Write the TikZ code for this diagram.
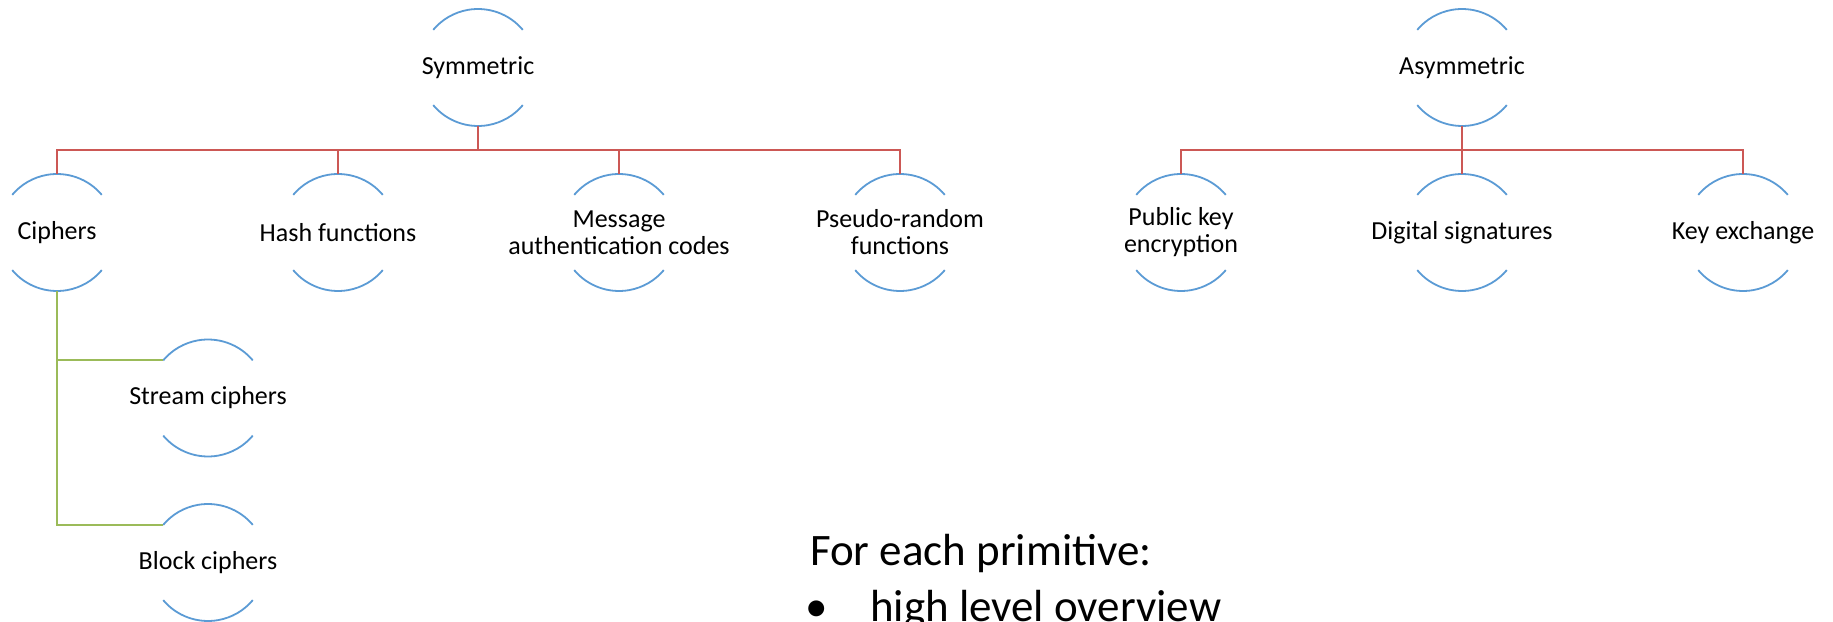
\documentclass[tikz,border=0pt]{standalone}
\usepackage{fontspec}
\setmainfont{Carlito}
\definecolor{arcblue}{RGB}{91,155,213}
\definecolor{busred}{RGB}{204,88,85}
\definecolor{subgreen}{RGB}{155,187,89}
\tikzset{
  ring/.style={circle, minimum size=117pt, inner sep=0pt, outer sep=0pt},
  lbl/.style={align=center, font=\fontsize{26}{27}\selectfont, inner sep=0pt},
  arcline/.style={draw=arcblue, line width=1.8pt},
  redline/.style={draw=busred, line width=1.8pt},
  greenline/.style={draw=subgreen, line width=1.8pt},
  note/.style={font=\fontsize{45}{56}\selectfont, inner sep=0pt, anchor=base west}
}
\newcommand\primnode[3]{%
  \node[ring] (#1) at (#2) {};
  \node[lbl] (#1-t) at (#1.center) {#3};
  \draw[arcline] (#1.40) arc[start angle=40,end angle=140,radius=58.5pt];
  \draw[arcline] (#1.220) arc[start angle=220,end angle=320,radius=58.5pt];
}
\begin{document}
\begin{tikzpicture}[x=1pt,y=1pt]
\fill[white] (0,0) rectangle (1833,621);
\useasboundingbox (0,0) rectangle (1833,621);

\primnode{sym}{478,553.5}{Symmetric}
\primnode{asym}{1462,553.5}{Asymmetric}

\primnode{ciph}{57,388.5}{Ciphers}
\primnode{hash}{338,388.5}{Hash functions}
\primnode{mac}{619,388.5}{Message\\authentication codes}
\primnode{prf}{900,388.5}{Pseudo-random\\functions}

\primnode{pke}{1181,388.5}{Public key\\encryption}
\primnode{dsig}{1462,388.5}{Digital signatures}
\primnode{kex}{1743,388.5}{Key exchange}

\primnode{stream}{208,223}{Stream ciphers}
\primnode{block}{208,58.5}{Block ciphers}

\foreach \c in {ciph,hash,mac,prf}
  \draw[redline] (sym.south) -- ++(0,-24) -| (\c.north);
\foreach \c in {pke,dsig,kex}
  \draw[redline] (asym.south) -- ++(0,-24) -| (\c.north);

\draw[greenline] (ciph.south) |- (stream.140);
\draw[greenline] (ciph.south) |- (block.140);

\node[note] (t1) at (810,56) {For each primitive:};
\node[note, anchor=base] (bul) at (817,0) {•};
\node[note] (t2) at (870,0) {high level overview};
\end{tikzpicture}
\end{document}
